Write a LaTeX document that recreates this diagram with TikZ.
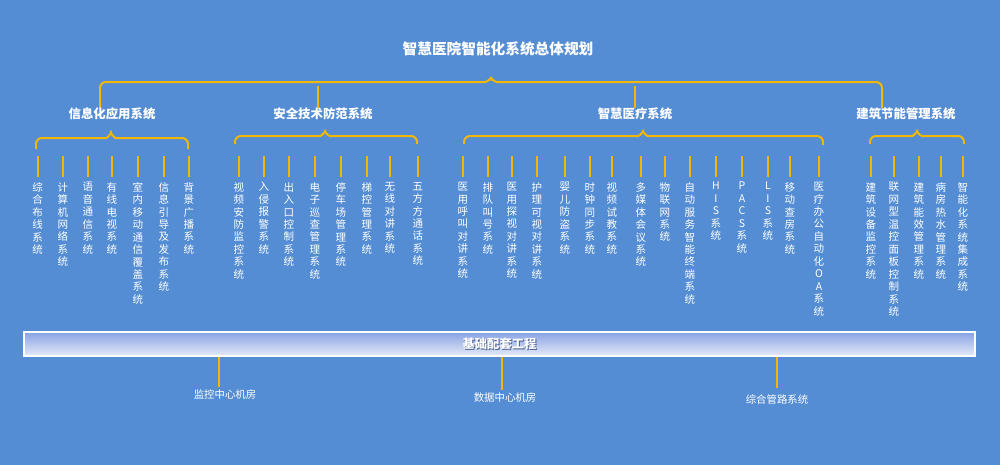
\documentclass[tikz,border=0pt]{standalone}
\usepackage{fontspec}
\setmainfont{Noto Sans CJK SC}
\newfontfamily\cjk{Noto Sans CJK SC}
\definecolor{bg}{RGB}{84,141,212}
\definecolor{gold}{RGB}{242,183,5}
\definecolor{bartop}{RGB}{136,162,228}
\definecolor{barbot}{RGB}{228,234,247}
\definecolor{shadowc}{RGB}{70,90,140}
\tikzset{
  brace/.style={draw=gold, line width=1.5pt, rounded corners=4.5pt},
  tick/.style={draw=gold, line width=1.5pt},
  titletext/.style={text=white, font=\cjk\bfseries\fontsize{11}{13}\selectfont, inner sep=0},
  cattext/.style={text=white, font=\cjk\bfseries\fontsize{9.3}{11}\selectfont, inner sep=0},
  item/.style={text=white, font=\cjk\fontsize{7.9}{9.35}\selectfont, inner sep=0, align=center, anchor=north},
  basetext/.style={text=white, font=\cjk\fontsize{7.8}{9}\selectfont, inner sep=0},
  barbox/.style={draw=white, line width=0.8pt, top color=bartop, bottom color=barbot,
    minimum width=713.25pt, minimum height=18pt, inner sep=0},
  bartext/.style={inner sep=0, font=\cjk\bfseries\fontsize{9.2}{11}\selectfont},
}
\begin{document}
\begin{tikzpicture}[x=0.75pt, y=-0.75pt]
\useasboundingbox (0,0) rectangle (1000,465);
\fill[bg] (0,0) rectangle (1000,465);

% title and top brace
\node[titletext] (title) at (498,49) {智慧医院智能化系统总体规划};
\draw[brace] (100,109) -- (100,82) -- (479,82) .. controls (488,82) and (491,77) .. (491,73)
  .. controls (491,77) and (494,82) .. (503,82) -- (882,82) -- (882,108);

% categories
\node[cattext] (c1) at (112,114) {信息化应用系统};
\node[cattext] (c2) at (323,114) {安全技术防范系统};
\node[cattext] (c3) at (635,114) {智慧医疗系统};
\node[cattext] (c4) at (906,114) {建筑节能管理系统};
\coordinate (k2) at (318,86);
\coordinate (k3) at (635,86);
\draw[tick] (k2) -- (k2 |- c2.north);
\draw[tick] (k3) -- (k3 |- c3.north);

% sub braces
\draw[brace] (36,149) -- (36,138) -- (100,138) .. controls (108,138) and (111,133) .. (111,127)
  .. controls (111,133) and (114,138) .. (122,138) -- (188,138) -- (188,149);
\draw[brace] (235,144) -- (235,136) -- (314,136) .. controls (322,136) and (325,131) .. (325,126)
  .. controls (325,131) and (328,136) .. (336,136) -- (417,136) -- (417,144);
\draw[brace] (464,144) -- (464,136) -- (632,136) .. controls (640,136) and (643,131) .. (643,126)
  .. controls (643,131) and (646,136) .. (654,136) -- (823,136) -- (823,145);
\draw[brace] (870,144) -- (870,136) -- (906,136) .. controls (914,136) and (917,131) .. (917,126)
  .. controls (917,131) and (920,136) .. (928,136) -- (964,136) -- (964,144);

% group 1
\foreach \x/\t [count=\i] in {
  37.7/{综\\合\\布\\线\\系\\统},
  63/{计\\算\\机\\网\\络\\系\\统},
  88/{语\\音\\通\\信\\系\\统},
  112/{有\\线\\电\\视\\系\\统},
  138/{室\\内\\移\\动\\通\\信\\覆\\盖\\系\\统},
  164/{信\\息\\引\\导\\及\\发\\布\\系\\统},
  189/{背\\景\\广\\播\\系\\统}}{
  \node[item] (a\i) at (\x,182) {\t};
  \draw[tick] (a\i.north) ++(0,-5) -- ++(0,-21);
}
% group 2
\foreach \x/\t [count=\i] in {
  239/{视\\频\\安\\防\\监\\控\\系\\统},
  264/{入\\侵\\报\\警\\系\\统},
  289/{出\\入\\口\\控\\制\\系\\统},
  315/{电\\子\\巡\\查\\管\\理\\系\\统},
  341/{停\\车\\场\\管\\理\\系\\统},
  367/{梯\\控\\管\\理\\系\\统},
  390/{无\\线\\对\\讲\\系\\统},
  418/{五\\方\\方\\通\\话\\系\\统}}{
  \node[item] (b\i) at (\x,182) {\t};
  \draw[tick] (b\i.north) ++(0,-5) -- ++(0,-21);
}
% group 3
\foreach \x/\t [count=\i] in {
  463/{医\\用\\呼\\叫\\对\\讲\\系\\统},
  488/{排\\队\\叫\\号\\系\\统},
  512/{医\\用\\探\\视\\对\\讲\\系\\统},
  537/{护\\理\\可\\视\\对\\讲\\系\\统},
  565/{婴\\儿\\防\\盗\\系\\统},
  590/{时\\钟\\同\\步\\系\\统},
  612/{视\\频\\试\\教\\系\\统},
  641/{多\\媒\\体\\会\\议\\系\\统},
  665/{物\\联\\网\\系\\统},
  690/{自\\动\\服\\务\\智\\能\\终\\端\\系\\统},
  716/{H\\I\\S\\系\\统},
  742/{P\\A\\C\\S\\系\\统},
  768/{L\\I\\S\\系\\统},
  790/{移\\动\\查\\房\\系\\统},
  819/{医\\疗\\办\\公\\自\\动\\化\\O\\A\\系\\统}}{
  \node[item] (m\i) at (\x,182) {\t};
  \draw[tick] (m\i.north) ++(0,-5) -- ++(0,-21);
}
% group 4
\foreach \x/\t [count=\i] in {
  871/{建\\筑\\设\\备\\监\\控\\系\\统},
  894/{联\\网\\型\\温\\控\\面\\板\\控\\制\\系\\统},
  919/{建\\筑\\能\\效\\管\\理\\系\\统},
  941/{病\\房\\热\\水\\管\\理\\系\\统},
  963/{智\\能\\化\\系\\统\\集\\成\\系\\统}}{
  \node[item] (e\i) at (\x,182) {\t};
  \draw[tick] (e\i.north) ++(0,-5) -- ++(0,-21);
}

% base bar
\node[barbox] (bar) at (499.5,344) {};
\node[bartext, text=shadowc] (barshadow) at (500.5,345) {基础配套工程};
\node[bartext, text=white] (barlabel) at (499.5,344) {基础配套工程};
\node[basetext] (p1) at (225,395) {监控中心机房};
\node[basetext] (p2) at (505,398) {数据中心机房};
\node[basetext] (p3) at (777,400) {综合管路系统};
\coordinate (t1) at (219,387);
\coordinate (t2) at (502,390);
\coordinate (t3) at (777,388);
\draw[tick] (bar.south -| t1) -- (t1);
\draw[tick] (bar.south -| t2) -- (t2);
\draw[tick] (bar.south -| t3) -- (t3);
\end{tikzpicture}
\end{document}
